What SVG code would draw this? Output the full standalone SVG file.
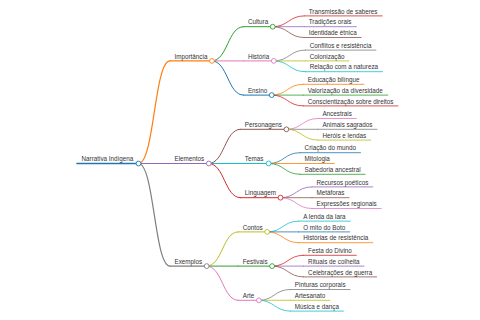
<svg xmlns="http://www.w3.org/2000/svg" width="480" height="320" viewBox="0 0 480 320">
<style>
.t{font-family:"Liberation Sans",Arial,sans-serif;font-size:6.3px;fill:#333}
path,line{fill:none;stroke-linecap:round}
circle{fill:#fff;stroke-width:0.9}
.d0{stroke-width:1.6}.d1{stroke-width:1.2}.d2{stroke-width:1}.d3{stroke-width:0.8}
.c0{stroke:#1f77b4}.c1{stroke:#ff7f0e}.c2{stroke:#2ca02c}.c3{stroke:#d62728}.c4{stroke:#9467bd}
.c5{stroke:#8c564b}.c6{stroke:#e377c2}.c7{stroke:#7f7f7f}.c8{stroke:#bcbd22}.c9{stroke:#17becf}
</style>
<rect width="480" height="320" fill="#fff"/>
<g id="connectors">
<path class="c1 d1" d="M138.5,163.5 C154.3,163.5 154.3,60.9 170,60.9"/>
<path class="c4 d1" d="M138.5,163.5 L170,163.5"/>
<path class="c7 d1" d="M138.5,163.5 C154.3,163.5 154.3,266.1 170,266.1"/>
<path class="c2 d2" d="M211.9,60.9 C227.7,60.9 227.7,26.7 243.4,26.7"/>
<path class="c6 d2" d="M211.9,60.9 L243.4,60.9"/>
<path class="c0 d2" d="M211.9,60.9 C227.7,60.9 227.7,95.1 243.4,95.1"/>
<path class="c5 d2" d="M208.8,163.5 C224.6,163.5 224.6,129.3 240.3,129.3"/>
<path class="c9 d2" d="M208.8,163.5 L240.3,163.5"/>
<path class="c3 d2" d="M208.8,163.5 C224.6,163.5 224.6,197.7 240.3,197.7"/>
<path class="c8 d2" d="M206.7,266.1 C222.5,266.1 222.5,231.9 238.2,231.9"/>
<path class="c2 d2" d="M206.7,266.1 L238.2,266.1"/>
<path class="c6 d2" d="M206.7,266.1 C222.5,266.1 222.5,300.3 238.2,300.3"/>
<path class="c3 d3" d="M272.7,26.7 C288.5,26.7 288.5,15.9 304.2,15.9"/>
<path class="c4 d3" d="M272.7,26.7 L304.2,26.7"/>
<path class="c5 d3" d="M272.7,26.7 C288.5,26.7 288.5,37.5 304.2,37.5"/>
<path class="c7 d3" d="M273.8,60.9 C289.5,60.9 289.5,50.1 305.3,50.1"/>
<path class="c8 d3" d="M273.8,60.9 L305.3,60.9"/>
<path class="c9 d3" d="M273.8,60.9 C289.5,60.9 289.5,71.7 305.3,71.7"/>
<path class="c1 d3" d="M271.7,95.1 C287.4,95.1 287.4,84.3 303.2,84.3"/>
<path class="c2 d3" d="M271.7,95.1 L303.2,95.1"/>
<path class="c3 d3" d="M271.7,95.1 C287.4,95.1 287.4,105.9 303.2,105.9"/>
<path class="c6 d3" d="M286.4,129.3 C302.2,129.3 302.2,118.5 317.9,118.5"/>
<path class="c7 d3" d="M286.4,129.3 L317.9,129.3"/>
<path class="c8 d3" d="M286.4,129.3 C302.2,129.3 302.2,140.1 317.9,140.1"/>
<path class="c0 d3" d="M268.6,163.5 C284.3,163.5 284.3,152.7 300.1,152.7"/>
<path class="c1 d3" d="M268.6,163.5 L300.1,163.5"/>
<path class="c2 d3" d="M268.6,163.5 C284.3,163.5 284.3,174.3 300.1,174.3"/>
<path class="c4 d3" d="M280.5,197.7 C296.2,197.7 296.2,186.9 312,186.9"/>
<path class="c5 d3" d="M280.5,197.7 L312,197.7"/>
<path class="c6 d3" d="M280.5,197.7 C296.2,197.7 296.2,208.5 312,208.5"/>
<path class="c9 d3" d="M267.2,231.9 C282.9,231.9 282.9,221.1 298.7,221.1"/>
<path class="c0 d3" d="M267.2,231.9 L298.7,231.9"/>
<path class="c1 d3" d="M267.2,231.9 C282.9,231.9 282.9,242.7 298.7,242.7"/>
<path class="c3 d3" d="M272.1,266.1 C287.8,266.1 287.8,255.3 303.6,255.3"/>
<path class="c4 d3" d="M272.1,266.1 L303.6,266.1"/>
<path class="c5 d3" d="M272.1,266.1 C287.8,266.1 287.8,276.9 303.6,276.9"/>
<path class="c7 d3" d="M258.8,300.3 C274.5,300.3 274.5,289.5 290.3,289.5"/>
<path class="c8 d3" d="M258.8,300.3 L290.3,300.3"/>
<path class="c9 d3" d="M258.8,300.3 C274.5,300.3 274.5,311.1 290.3,311.1"/>
</g>
<g id="n-root"><line class="c0 d0" x1="77" y1="163.5" x2="138.5" y2="163.5"/><text class="t" x="81.5" y="161.2">Narrativa Indígena</text><circle class="c0" cx="138.5" cy="163.5" r="2.4"/></g>
<g id="n-importancia"><line class="c1 d1" x1="170" y1="60.9" x2="211.9" y2="60.9"/><text class="t" x="174.5" y="58.6">Importância</text><circle class="c1" cx="211.9" cy="60.9" r="2.4"/></g>
<g id="n-elementos"><line class="c4 d1" x1="170" y1="163.5" x2="208.8" y2="163.5"/><text class="t" x="174.5" y="161.2">Elementos</text><circle class="c4" cx="208.8" cy="163.5" r="2.4"/></g>
<g id="n-exemplos"><line class="c7 d1" x1="170" y1="266.1" x2="206.7" y2="266.1"/><text class="t" x="174.5" y="263.8">Exemplos</text><circle class="c7" cx="206.7" cy="266.1" r="2.4"/></g>
<g id="n-cultura"><line class="c2 d2" x1="243.4" y1="26.7" x2="272.7" y2="26.7"/><text class="t" x="247.9" y="24.4">Cultura</text><circle class="c2" cx="272.7" cy="26.7" r="2.4"/></g>
<g id="n-historia"><line class="c6 d2" x1="243.4" y1="60.9" x2="273.8" y2="60.9"/><text class="t" x="247.9" y="58.6">História</text><circle class="c6" cx="273.8" cy="60.9" r="2.4"/></g>
<g id="n-ensino"><line class="c0 d2" x1="243.4" y1="95.1" x2="271.7" y2="95.1"/><text class="t" x="247.9" y="92.8">Ensino</text><circle class="c0" cx="271.7" cy="95.1" r="2.4"/></g>
<g id="n-personagens"><line class="c5 d2" x1="240.3" y1="129.3" x2="286.4" y2="129.3"/><text class="t" x="244.8" y="127">Personagens</text><circle class="c5" cx="286.4" cy="129.3" r="2.4"/></g>
<g id="n-temas"><line class="c9 d2" x1="240.3" y1="163.5" x2="268.6" y2="163.5"/><text class="t" x="244.8" y="161.2">Temas</text><circle class="c9" cx="268.6" cy="163.5" r="2.4"/></g>
<g id="n-linguagem"><line class="c3 d2" x1="240.3" y1="197.7" x2="280.5" y2="197.7"/><text class="t" x="244.8" y="195.4">Linguagem</text><circle class="c3" cx="280.5" cy="197.7" r="2.4"/></g>
<g id="n-contos"><line class="c8 d2" x1="238.2" y1="231.9" x2="267.2" y2="231.9"/><text class="t" x="242.7" y="229.6">Contos</text><circle class="c8" cx="267.2" cy="231.9" r="2.4"/></g>
<g id="n-festivais"><line class="c2 d2" x1="238.2" y1="266.1" x2="272.1" y2="266.1"/><text class="t" x="242.7" y="263.8">Festivais</text><circle class="c2" cx="272.1" cy="266.1" r="2.4"/></g>
<g id="n-arte"><line class="c6 d2" x1="238.2" y1="300.3" x2="258.8" y2="300.3"/><text class="t" x="242.7" y="298">Arte</text><circle class="c6" cx="258.8" cy="300.3" r="2.4"/></g>
<g id="n-transmissao"><line class="c3 d3" x1="304.2" y1="15.9" x2="382.2" y2="15.9"/><text class="t" x="308.7" y="13.6">Transmissão de saberes</text></g>
<g id="n-tradicoes"><line class="c4 d3" x1="304.2" y1="26.7" x2="356.3" y2="26.7"/><text class="t" x="308.7" y="24.4">Tradições orais</text></g>
<g id="n-identidade"><line class="c5 d3" x1="304.2" y1="37.5" x2="361.2" y2="37.5"/><text class="t" x="308.7" y="35.2">Identidade étnica</text></g>
<g id="n-conflitos"><line class="c7 d3" x1="305.3" y1="50.1" x2="375.9" y2="50.1"/><text class="t" x="309.8" y="47.8">Conflitos e resistência</text></g>
<g id="n-colonizacao"><line class="c8 d3" x1="305.3" y1="60.9" x2="348.9" y2="60.9"/><text class="t" x="309.8" y="58.6">Colonização</text></g>
<g id="n-relacao"><line class="c9 d3" x1="305.3" y1="71.7" x2="382.5" y2="71.7"/><text class="t" x="309.8" y="69.4">Relação com a natureza</text></g>
<g id="n-educacao"><line class="c1 d3" x1="303.2" y1="84.3" x2="364" y2="84.3"/><text class="t" x="307.7" y="82">Educação bilíngue</text></g>
<g id="n-valorizacao"><line class="c2 d3" x1="303.2" y1="95.1" x2="387.8" y2="95.1"/><text class="t" x="307.7" y="92.8">Valorização da diversidade</text></g>
<g id="n-conscientizacao"><line class="c3 d3" x1="303.2" y1="105.9" x2="397.9" y2="105.9"/><text class="t" x="307.7" y="103.6">Conscientização sobre direitos</text></g>
<g id="n-ancestrais"><line class="c6 d3" x1="317.9" y1="118.5" x2="356.3" y2="118.5"/><text class="t" x="322.4" y="116.2">Ancestrais</text></g>
<g id="n-animais"><line class="c7 d3" x1="317.9" y1="129.3" x2="377" y2="129.3"/><text class="t" x="322.4" y="127">Animais sagrados</text></g>
<g id="n-herois"><line class="c8 d3" x1="317.9" y1="140.1" x2="370.7" y2="140.1"/><text class="t" x="322.4" y="137.8">Heróis e lendas</text></g>
<g id="n-criacao"><line class="c0 d3" x1="300.1" y1="152.7" x2="360.5" y2="152.7"/><text class="t" x="304.6" y="150.4">Criação do mundo</text></g>
<g id="n-mitologia"><line class="c1 d3" x1="300.1" y1="163.5" x2="334.3" y2="163.5"/><text class="t" x="304.6" y="161.2">Mitologia</text></g>
<g id="n-sabedoria"><line class="c2 d3" x1="300.1" y1="174.3" x2="365.1" y2="174.3"/><text class="t" x="304.6" y="172">Sabedoria ancestral</text></g>
<g id="n-recursos"><line class="c4 d3" x1="312" y1="186.9" x2="372.8" y2="186.9"/><text class="t" x="316.5" y="184.6">Recursos poéticos</text></g>
<g id="n-metaforas"><line class="c5 d3" x1="312" y1="197.7" x2="349" y2="197.7"/><text class="t" x="316.5" y="195.4">Metáforas</text></g>
<g id="n-expressoes"><line class="c6 d3" x1="312" y1="208.5" x2="381.2" y2="208.5"/><text class="t" x="316.5" y="206.2">Expressões regionais</text></g>
<g id="n-iara"><line class="c9 d3" x1="298.7" y1="221.1" x2="350.4" y2="221.1"/><text class="t" x="303.2" y="218.8">A lenda da Iara</text></g>
<g id="n-boto"><line class="c0 d3" x1="298.7" y1="231.9" x2="349.7" y2="231.9"/><text class="t" x="303.2" y="229.6">O mito do Boto</text></g>
<g id="n-historias"><line class="c1 d3" x1="298.7" y1="242.7" x2="372.8" y2="242.7"/><text class="t" x="303.2" y="240.4">Histórias de resistência</text></g>
<g id="n-festa"><line class="c3 d3" x1="303.6" y1="255.3" x2="356.3" y2="255.3"/><text class="t" x="308.1" y="253">Festa do Divino</text></g>
<g id="n-rituais"><line class="c4 d3" x1="303.6" y1="266.1" x2="364" y2="266.1"/><text class="t" x="308.1" y="263.8">Rituais de colheita</text></g>
<g id="n-celebracoes"><line class="c5 d3" x1="303.6" y1="276.9" x2="376.6" y2="276.9"/><text class="t" x="308.1" y="274.6">Celebrações de guerra</text></g>
<g id="n-pinturas"><line class="c7 d3" x1="290.3" y1="289.5" x2="350" y2="289.5"/><text class="t" x="294.8" y="287.2">Pinturas corporais</text></g>
<g id="n-artesanato"><line class="c8 d3" x1="290.3" y1="300.3" x2="329.7" y2="300.3"/><text class="t" x="294.8" y="298">Artesanato</text></g>
<g id="n-musica"><line class="c9 d3" x1="290.3" y1="311.1" x2="343.4" y2="311.1"/><text class="t" x="294.8" y="308.8">Música e dança</text></g>
</svg>
